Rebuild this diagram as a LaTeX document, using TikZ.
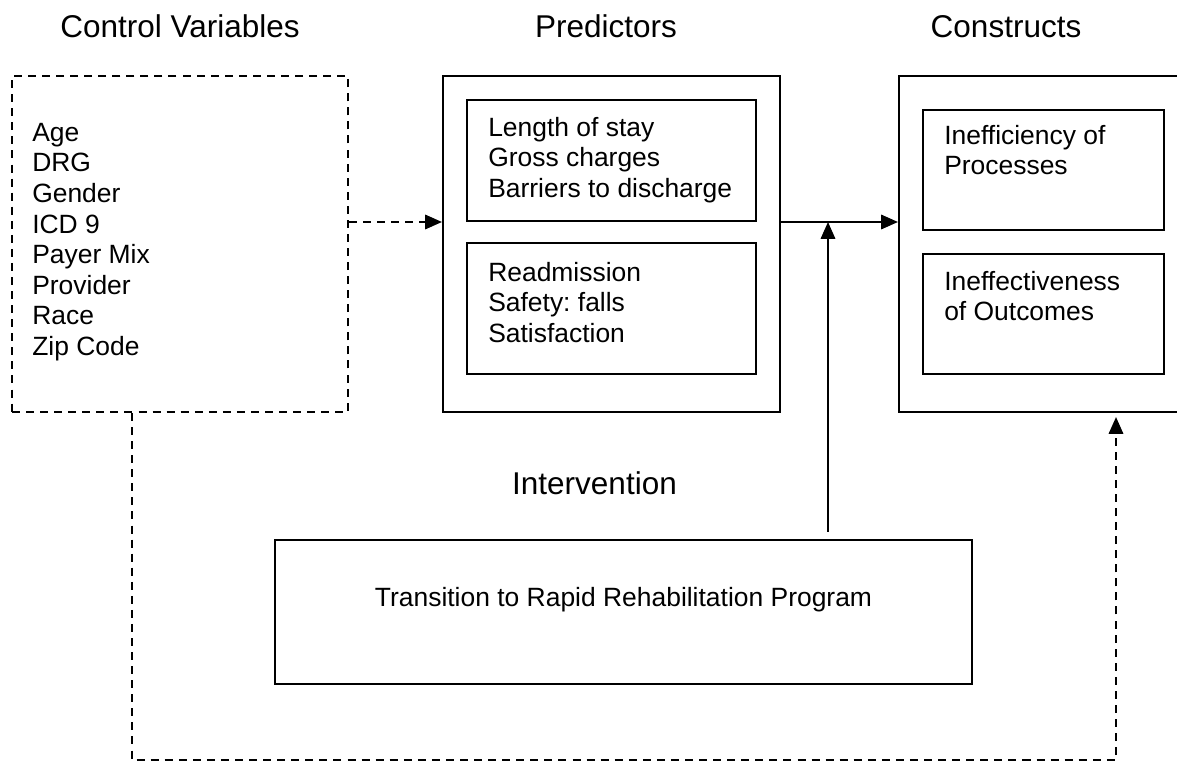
\documentclass[tikz,border=0pt]{standalone}
\usepackage{fontspec}
\setmainfont{Liberation Sans}
\usetikzlibrary{arrows.meta}
\frenchspacing

\tikzset{
  frame/.style={draw, line width=1.4pt, inner sep=0pt},
  dashframe/.style={frame, dash pattern=on 5.7pt off 4.3pt},
  title/.style={anchor=base, font=\fontsize{22.4}{26}\selectfont},
  list/.style={anchor=north west, inner sep=0pt, align=left, font=\fontsize{18.8}{21.7}\selectfont},
  link/.style={line width=1.4pt, -{Triangle[length=0.42cm,width=0.36cm]}},
  dashlink/.style={link, dash pattern=on 5.7pt off 4.3pt}
}

\begin{document}
\begin{tikzpicture}[x=0.025cm, y=-0.025cm]
        \clip (0,0) rectangle (1177,766);
        % headings
        \node[title] (Tctrl) at (180,38) {Control Variables};
        \node[title] (Tpred) at (606,38) {Predictors};
        \node[title] (Tcons) at (1006,38) {Constructs};
        \node[title] (Tint) at (594.5,495) {Intervention};
        % boxes
        \node[dashframe, minimum width=8.4cm, minimum height=8.4cm] (ctrl) at (180,244) {};
        \node[frame, minimum width=8.425cm, minimum height=8.4cm] (pred) at (611.5,244) {};
        \node[frame, minimum width=7.225cm, minimum height=3.025cm] (predA) at (611.5,160.5) {};
        \node[frame, minimum width=7.225cm, minimum height=3.275cm] (predB) at (611.5,308.5) {};
        \node[frame, minimum width=7.225cm, minimum height=8.4cm] (cons) at (1043.5,244) {};
        \node[frame, minimum width=6.025cm, minimum height=3cm] (consA) at (1043.5,170) {};
        \node[frame, minimum width=6.025cm, minimum height=3cm] (consB) at (1043.5,314) {};
        \node[frame, minimum width=17.425cm, minimum height=3.6cm] (rehab) at (623.5,612) {};
        % texts
        \node[list] (ctrltxt) at (32,123) {Age\\DRG\\Gender\\ICD 9\\Payer Mix\\Provider\\Race\\Zip Code};
        \node[list] (predAtxt) at (488,117) {Length of stay\\Gross charges\\Barriers to discharge};
        \node[list] (predBtxt) at (488,262) {Readmission\\Safety: falls\\Satisfaction};
        \node[list] (consAtxt) at (944,125) {Inefficiency of\\Processes};
        \node[list] (consBtxt) at (944,271) {Ineffectiveness\\of Outcomes};
        \node[list, anchor=base] (rehabtxt) at (623.5,606) {Transition to Rapid Rehabilitation Program};
        % connectors
        \coordinate (stem) at (828,532);
        \coordinate (loopL) at (132,760);
        \coordinate (loopR) at (1116,760);
        \draw[dashlink] (ctrl.east |- predA.south) -- (pred.west |- predA.south);
        \draw[link] (pred.east |- predA.south) -- (cons.west |- predA.south);
        \draw[link] (stem) -- (stem |- predA.south);
        \draw[dashlink, shorten >=0.1cm] (ctrl.south -| loopL) -- (loopL) -- (loopR) -- (cons.south -| loopR);
\end{tikzpicture}
\end{document}
